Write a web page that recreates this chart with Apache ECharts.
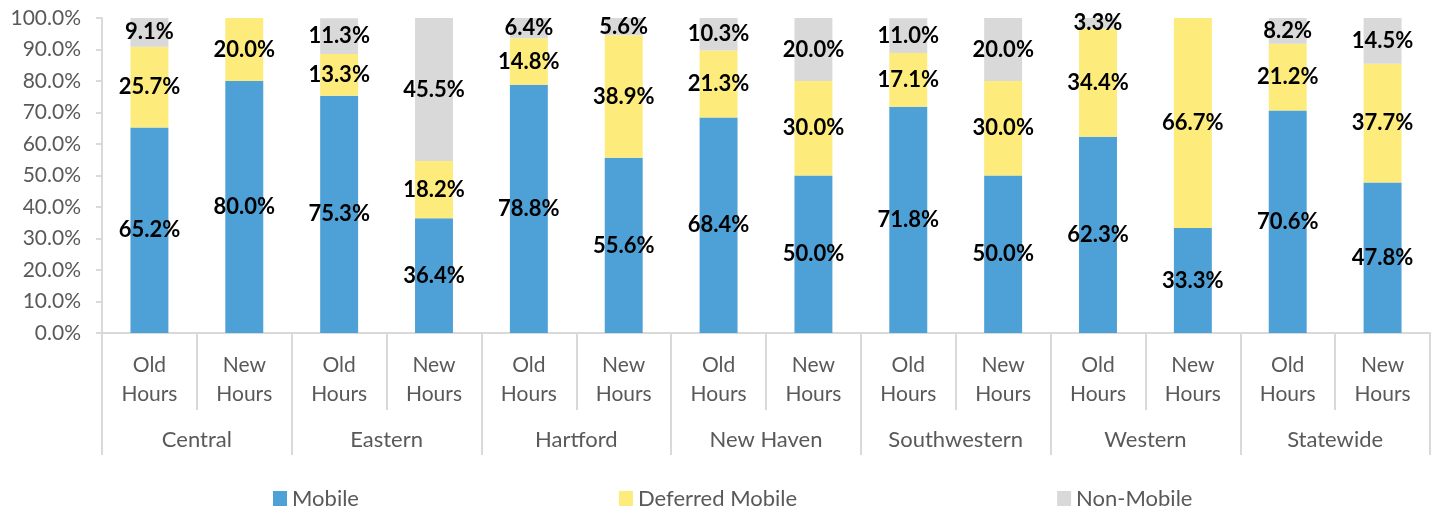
<!DOCTYPE html>
<html lang="en">
<head>
  <meta charset="UTF-8">
  <script src="https://cdn.jsdelivr.net/npm/echarts@6/dist/echarts.min.js"></script>
  <title>Mobile status by region</title>
</head>
<body style="margin:0">
  <div id="chart" style="width: 1440px; height: 506px"></div>
  <script>
    const regions = ['Central', 'Eastern', 'Hartford', 'New Haven', 'Southwestern', 'Western', 'Statewide']
    const hours = ['Old\nHours', 'New\nHours']
    const mobile = [65.2, 80.0, 75.3, 36.4, 78.8, 55.6, 68.4, 50.0, 71.8, 50.0, 62.3, 33.3, 70.6, 47.8]
    const deferred = [25.7, 20.0, 13.3, 18.2, 14.8, 38.9, 21.3, 30.0, 17.1, 30.0, 34.4, 66.7, 21.2, 37.7]
    const nonMobile = [9.1, 0, 11.3, 45.5, 6.4, 5.6, 10.3, 20.0, 11.0, 20.0, 3.3, 0, 8.2, 14.5]

    const font = 'Lato, "Open Sans", sans-serif'
    const barCats = []
    for (let i = 0; i < regions.length; i++) {
      barCats.push(hours[0], hours[1])
    }

    const makeSeries = (name, data, color) => ({
      name: name,
      type: 'bar',
      stack: 'total',
      barWidth: '40%',
      itemStyle: { color: color },
      label: {
        show: true,
        position: 'inside',
        color: '#000',
        fontFamily: font,
        fontWeight: 'bold',
        fontSize: 22,
        formatter: (p) => p.value > 0 ? p.value.toFixed(1) + '%' : ''
      },
      data: data
    })

    const chart = echarts.init(document.getElementById('chart'))
    chart.setOption({
      animation: false,
      grid: { left: 102, right: 10, top: 18, bottom: 173 },
      legend: {
        top: 483,
        left: 268,
        itemGap: 260,
        itemWidth: 14,
        itemHeight: 16,
        icon: 'rect',
        textStyle: { color: '#595959', fontFamily: font, fontSize: 22 },
        data: ['Mobile', 'Deferred Mobile', 'Non-Mobile']
      },
      xAxis: [
        {
          type: 'category',
          data: barCats,
          axisLine: { lineStyle: { color: '#d9d9d9', width: 2 } },
          axisTick: { show: true, interval: 0, length: 77, lineStyle: { color: '#d9d9d9', width: 2 } },
          axisLabel: {
            interval: 0, margin: 18, color: '#595959', fontFamily: font, fontSize: 21, lineHeight: 29
          }
        },
        {
          type: 'category',
          position: 'bottom',
          data: regions,
          axisLine: { show: false },
          axisTick: { show: true, interval: 0, length: 122, lineStyle: { color: '#d9d9d9', width: 2 } },
          axisLabel: { interval: 0, margin: 96, color: '#595959', fontFamily: font, fontSize: 22 }
        }
      ],
      yAxis: {
        type: 'value',
        min: 0,
        max: 100,
        interval: 10,
        axisLine: { show: true, lineStyle: { color: '#d9d9d9', width: 2 } },
        axisTick: { show: true, length: 6, lineStyle: { color: '#d9d9d9', width: 2 } },
        splitLine: { show: false },
        axisLabel: {
          margin: 21, color: '#595959', fontFamily: font, fontSize: 21,
          formatter: (v) => v.toFixed(1) + '%'
        }
      },
      series: [
        makeSeries('Mobile', mobile, '#4ea1d6'),
        makeSeries('Deferred Mobile', deferred, '#fdec7b'),
        makeSeries('Non-Mobile', nonMobile, '#d9d9d9')
      ]
    })
  </script>
</body>
</html>
